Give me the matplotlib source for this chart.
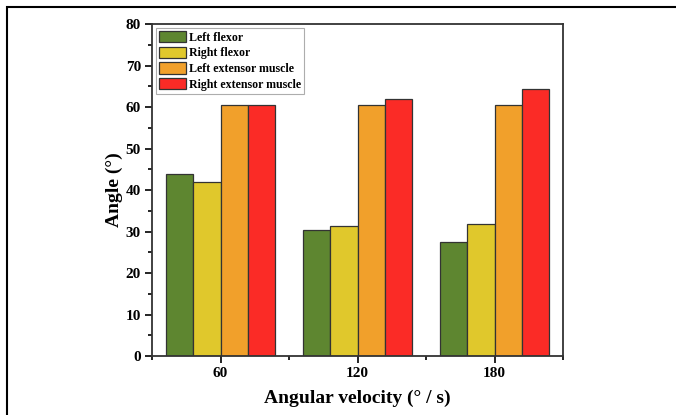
import numpy as np
import matplotlib
matplotlib.use('Agg')
import matplotlib.pyplot as plt
from matplotlib.patches import Rectangle
from matplotlib.ticker import MultipleLocator

plt.rcParams['font.family'] = ['Liberation Serif', 'DejaVu Serif']
plt.rcParams['font.weight'] = 'bold'

# data
velocities = [60, 120, 180]
series = ['Left flexor', 'Right flexor', 'Left extensor muscle', 'Right extensor muscle']
left_flexor = [43.9, 30.4, 27.6]
right_flexor = [41.9, 31.4, 31.8]
left_extensor = [60.5, 60.5, 60.5]
right_extensor = [60.5, 61.9, 64.3]
colors = ['#5E8630', '#E0C82C', '#F1A02B', '#FB2B26']

fig = plt.figure(figsize=(6.76, 4.15), dpi=100)
ax = fig.add_axes([0.225, 0.142, 0.608, 0.8])

width = 12
values = [left_flexor, right_flexor, left_extensor, right_extensor]
x = np.array(velocities)
for i, vals in enumerate(values):
    ax.bar(x + (i - 1.5) * width, vals, width, color=colors[i], edgecolor='#333333',
           linewidth=0.9, label=series[i])

ax.set_xlim(30, 210)
ax.set_ylim(0, 80)
ax.set_xticks(velocities)
ax.xaxis.set_minor_locator(MultipleLocator(30))
ax.yaxis.set_major_locator(MultipleLocator(10))
ax.yaxis.set_minor_locator(MultipleLocator(5))
ax.tick_params(which='major', direction='out', length=5, width=1.2, labelsize=11, pad=3)
ax.tick_params(which='minor', direction='out', length=3, width=1.2)
for s in ax.spines.values():
    s.set_linewidth(1.3)
    s.set_color('#333333')

ax.set_xlabel('Angular velocity (° / s)', fontsize=14, fontweight='bold', labelpad=7)
ax.set_ylabel('Angle (°)', fontsize=14, fontweight='bold', labelpad=2)

leg = ax.legend(loc='upper left', bbox_to_anchor=(0.0, 1.0), fontsize=8.6, frameon=True,
                fancybox=False, edgecolor='#999999', handlelength=2.2, handleheight=1.05,
                handletextpad=0.3, labelspacing=0.25, borderpad=0.25, borderaxespad=0.35)
leg.get_frame().set_linewidth(0.8)

# outer frame of the figure
fig.patches.append(Rectangle((7 / 676, -0.1), 1.2, 1 - 7 / 415 + 0.1, transform=fig.transFigure,
                             fill=False, edgecolor='black', linewidth=1.5))

fig.savefig('out.png', dpi=100)
